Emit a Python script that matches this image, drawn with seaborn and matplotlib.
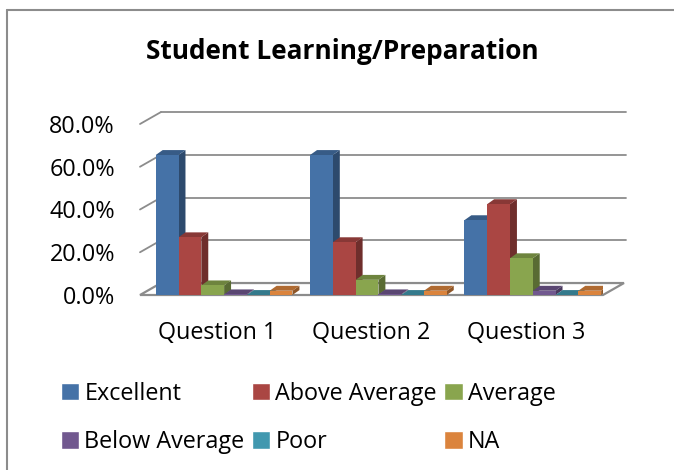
import pandas as pd
import numpy as np
import matplotlib
matplotlib.use("Agg")
import matplotlib.pyplot as plt
import matplotlib.colors as mcolors
import matplotlib.transforms as mtransforms
from matplotlib.patches import Polygon, Rectangle
from matplotlib.lines import Line2D
import seaborn as sns

# ---- data ----
questions = ["Question 1", "Question 2", "Question 3"]
ratings = ["Excellent", "Above Average", "Average", "Below Average", "Poor", "NA"]
excellent = [65.5, 65.5, 35.0]
above_avg = [27.0, 24.7, 42.5]
average = [4.5, 7.1, 17.2]
below_avg = [0.3, 0.3, 2.0]
poor = [0.0, 0.0, 0.0]
na = [2.0, 2.0, 2.0]
yticks = [0, 20, 40, 60, 80]

colors = ["#4572A7", "#AA4643", "#89A54E", "#71588F", "#4198AF", "#DB843D"]

df = pd.DataFrame({
    "question": np.repeat(questions, len(ratings)),
    "rating": ratings * len(questions),
    "value": np.array([excellent, above_avg, average, below_avg, poor, na]).T.ravel(),
})

sns.set_theme(style="white")
plt.rcParams["font.family"] = ["Open Sans", "DejaVu Sans"]
plt.rcParams["text.color"] = "black"
plt.rcParams["xtick.color"] = "black"
plt.rcParams["ytick.color"] = "black"

FS = 16.8

fig = plt.figure(figsize=(6.74, 4.70), dpi=100)
ax = fig.add_axes([140 / 674, 1 - 295 / 470, 463 / 674, (295 - 124) / 470])

x_lo, x_hi = -0.545, 2.455
# depth of the back wall and of each bar, in data units
wall_dx, wall_dy = 0.136, 5.6
bar_dx, bar_dy = 0.045, 2.3

# floor slab
floor = Polygon([(x_lo, 0), (x_hi, 0), (x_hi + wall_dx, wall_dy), (x_lo + wall_dx, wall_dy)],
                closed=True, facecolor="white", edgecolor="#8c8c8c", lw=1.6,
                clip_on=False, zorder=0)
ax.add_patch(floor)

# back grid lines with diagonal connectors on the left
for v in yticks[1:]:
    ax.add_line(Line2D([x_lo + wall_dx, x_hi + wall_dx + 0.01], [v + wall_dy, v + wall_dy],
                       color="#8c8c8c", lw=1.3, clip_on=False, zorder=0))
    ax.add_line(Line2D([x_lo, x_lo + wall_dx], [v, v + wall_dy],
                       color="#8c8c8c", lw=1.3, clip_on=False, zorder=0))

sns.barplot(data=df, x="question", y="value", hue="rating", order=questions,
            hue_order=ratings, palette=colors, width=0.886, gap=0,
            saturation=1, legend=False, ax=ax, zorder=2, linewidth=0)

# fake 3D faces for each bar
for patch in ax.patches:
    if not isinstance(patch, Rectangle) or patch is floor:
        continue
    x0 = patch.get_x()
    w = patch.get_width()
    h = patch.get_height()
    if w <= 0:
        continue
    base = np.array(mcolors.to_rgb(patch.get_facecolor()))
    side = Polygon([(x0 + w, 0), (x0 + w + bar_dx, bar_dy), (x0 + w + bar_dx, h + bar_dy), (x0 + w, h)],
                   closed=True, facecolor=base * 0.65, edgecolor="none", zorder=1.9)
    top = Polygon([(x0, h), (x0 + w, h), (x0 + w + bar_dx, h + bar_dy), (x0 + bar_dx, h + bar_dy)],
                  closed=True, facecolor=base * 0.8, edgecolor="none", zorder=1.9)
    ax.add_patch(side)
    ax.add_patch(top)

ax.set_xlim(x_lo, x_hi)
ax.set_ylim(0, 80)
ax.set_yticks(yticks)
ax.set_yticklabels([f"{v:.1f}%" for v in yticks], fontsize=FS)
ax.tick_params(axis="y", length=0, pad=18)
ax.tick_params(axis="x", length=0, pad=19, labelsize=FS)
shift = mtransforms.ScaledTranslation(-7 / 100, 0, fig.dpi_scale_trans)
for lbl in ax.get_xticklabels():
    lbl.set_transform(lbl.get_transform() + shift)
ax.set_xlabel("")
ax.set_ylabel("")
for s in ax.spines.values():
    s.set_visible(False)

fig.text(342 / 674, 1 - 52 / 470, "Student Learning/Preparation", ha="center", va="center",
         fontsize=18.9, fontweight="bold")

# legend, row-wise order
handles = [Rectangle((0, 0), 1, 1, facecolor=c) for c in colors]
order = [0, 3, 1, 4, 2, 5]
fig.legend([handles[i] for i in order], [ratings[i] for i in order], ncol=3,
           loc="upper left", bbox_to_anchor=(49 / 674, 1 - 370 / 470), frameon=False,
           borderpad=0, fontsize=FS, handlelength=0.8, handleheight=0.8,
           handletextpad=0.22, columnspacing=0.3, labelspacing=1.05)

# chart border (top and left)
fig.add_artist(Line2D([7 / 674, 7 / 674], [0, 1 - 10 / 470], color="#8c8c8c", lw=1.5))
fig.add_artist(Line2D([7 / 674, 1], [1 - 10 / 470, 1 - 10 / 470], color="#8c8c8c", lw=1.5))

fig.savefig("out.png", dpi=100)
